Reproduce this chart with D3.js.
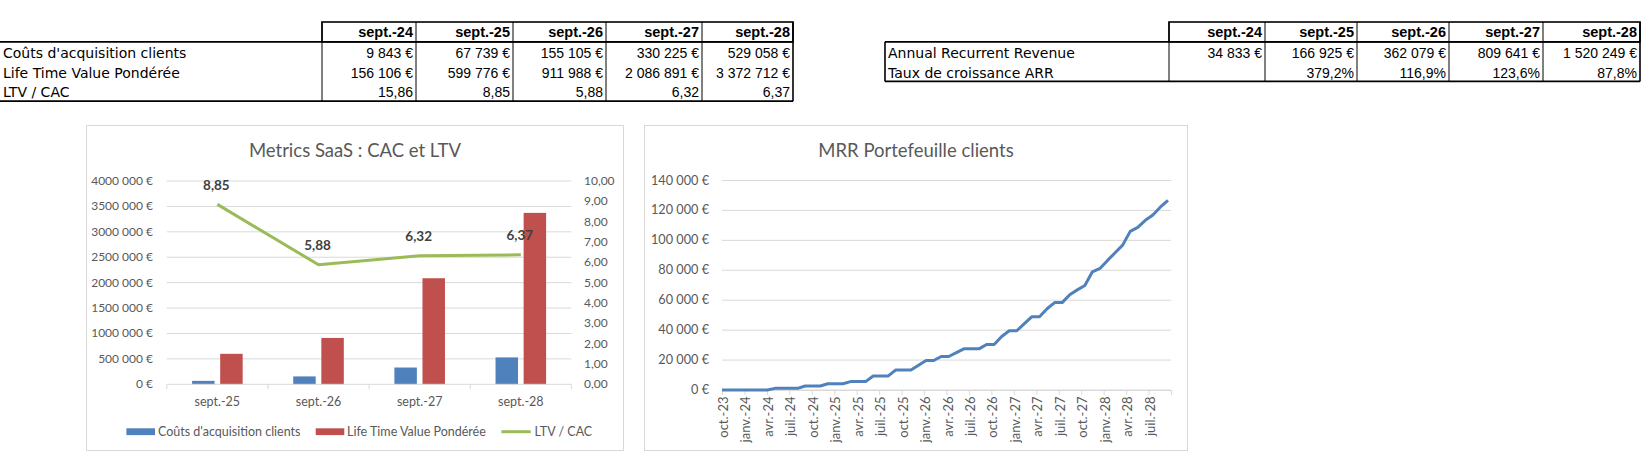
<!DOCTYPE html>
<html>
<head>
<meta charset="utf-8">
<script src="https://cdn.jsdelivr.net/npm/d3@7"></script>
<style>
  html, body { margin: 0; padding: 0; background: #ffffff; }
  svg { display: block; }
</style>
</head>
<body>
<svg id="c" width="1651" height="462"></svg>
<script>
// ---------- DATA ----------
const periods = ["sept.-24", "sept.-25", "sept.-26", "sept.-27", "sept.-28"];
const cac = [9843, 67739, 155105, 330225, 529058];
const ltv = [156106, 599776, 911988, 2086891, 3372712];
const ltvCac = [15.86, 8.85, 5.88, 6.32, 6.37];
const arr = [34833, 166925, 362079, 809641, 1520249];
const arrGrowth = [null, 379.2, 116.9, 123.6, 87.8];

const table1Labels = ["Coûts d'acquisition clients", "Life Time Value Pondérée", "LTV / CAC"];
const table2Labels = ["Annual Recurrent Revenue", "Taux de croissance ARR"];

// chart 1 shows sept.-25 .. sept.-28
const chartCategories = periods.slice(1);
const chartCac = cac.slice(1);
const chartLtv = ltv.slice(1);
const chartRatio = ltvCac.slice(1);
const leftTickValues = [0, 500000, 1000000, 1500000, 2000000, 2500000, 3000000, 3500000, 4000000];
const leftTickLabels = ["0 €", "500 000 €", "1000 000 €", "1500 000 €", "2000 000 €", "2500 000 €", "3000 000 €", "3500 000 €", "4000 000 €"];
const rightTickValues = [0,1,2,3,4,5,6,7,8,9,10];
const seriesNames = ["Coûts d'acquisition clients", "Life Time Value Pondérée", "LTV / CAC"];

// chart 2: monthly MRR from oct.-23 to sept.-28
const mrrValues = [0,0,0,0,0,0,0,1100,1100,1100,1100,2700,2700,2700,4200,4200,4200,5600,5600,5600,
  9400,9400,9400,13400,13400,13400,16600,19700,19700,22400,22400,25000,27500,27500,27500,30400,30400,
  35800,39600,39600,44300,49000,49000,54300,58400,58400,63700,66900,69800,79000,81200,86600,91700,
  96800,106000,108700,113400,117000,122300,126700];
const mrrTickLabels = ["oct.-23","janv.-24","avr.-24","juil.-24","oct.-24","janv.-25","avr.-25","juil.-25",
  "oct.-25","janv.-26","avr.-26","juil.-26","oct.-26","janv.-27","avr.-27","juil.-27","oct.-27",
  "janv.-28","avr.-28","juil.-28"];
const mrrYTicks = [0,20000,40000,60000,80000,100000,120000,140000];

// ---------- HELPERS ----------
const fr = d3.formatLocale({decimal: ",", thousands: " ", grouping: [3], currency: ["", " €"]});
const fEuro = v => fr.format(",.0f")(v) + " €";
const f2 = fr.format(".2f");
const f1pct = v => fr.format(".1f")(v) + "%";

const svg = d3.select("#c");
svg.append("rect").attr("width", 1651).attr("height", 462).attr("fill", "#fff");

const LABEL_FONT = "DejaVu Sans, sans-serif";
const NUM_FONT = "'Liberation Sans', Arial, sans-serif";
const CHART_FONT = "Lato, 'Open Sans', sans-serif";

// ---------- TABLES ----------
function drawTable(opts) {
  const g = svg.append("g");
  const {left, colX, headerTop, headerH, rowH, rows, leftBorder} = opts;
  const right = colX[colX.length - 1];
  const rowTop = headerTop + headerH;
  const bottom = rowTop + rowH * rows.length;
  g.append("rect").attr("x", colX[0]).attr("y", headerTop)
    .attr("width", right - colX[0]).attr("height", headerH)
    .attr("fill", "none").attr("stroke", "#000").attr("stroke-width", 1.6);
  periods.forEach((p, i) => {
    g.append("line").attr("x1", colX[i]).attr("x2", colX[i]).attr("y1", headerTop).attr("y2", bottom)
      .attr("stroke", "#000").attr("stroke-width", 1);
    g.append("text").attr("x", colX[i + 1] - 3).attr("y", headerTop + headerH / 2 + 5.5)
      .attr("text-anchor", "end").attr("font-family", NUM_FONT).attr("font-weight", "bold")
      .attr("font-size", 14.5).attr("fill", "#000").text(p);
  });
  g.append("line").attr("x1", right).attr("x2", right).attr("y1", headerTop).attr("y2", bottom)
    .attr("stroke", "#000").attr("stroke-width", 1.6);
  g.append("line").attr("x1", left).attr("x2", right).attr("y1", rowTop).attr("y2", rowTop)
    .attr("stroke", "#000").attr("stroke-width", 1.8);
  g.append("line").attr("x1", left).attr("x2", right).attr("y1", bottom).attr("y2", bottom)
    .attr("stroke", "#000").attr("stroke-width", 1.8);
  if (leftBorder) {
    g.append("line").attr("x1", left).attr("x2", left).attr("y1", rowTop).attr("y2", bottom)
      .attr("stroke", "#000").attr("stroke-width", 1.6);
  }
  rows.forEach((r, ri) => {
    const cy = rowTop + rowH * ri + rowH / 2 + 6;
    g.append("text").attr("x", left + 3).attr("y", cy)
      .attr("font-family", LABEL_FONT).attr("font-size", 14).attr("fill", "#000").text(r.label);
    r.values.forEach((v, i) => {
      if (v === null) return;
      g.append("text").attr("x", colX[i + 1] - 3).attr("y", cy)
        .attr("text-anchor", "end").attr("font-family", NUM_FONT).attr("font-size", 14)
        .attr("fill", "#000").text(r.fmt(v));
    });
  });
}

drawTable({
  left: 0, colX: [322, 416, 513, 606, 702, 793], headerTop: 22, headerH: 19.8, rowH: 19.8, leftBorder: false,
  rows: [
    {label: table1Labels[0], values: cac, fmt: fEuro},
    {label: table1Labels[1], values: ltv, fmt: fEuro},
    {label: table1Labels[2], values: ltvCac, fmt: f2}
  ]
});
drawTable({
  left: 885, colX: [1169, 1265, 1357, 1449, 1543, 1640], headerTop: 22, headerH: 19.8, rowH: 19.8, leftBorder: true,
  rows: [
    {label: table2Labels[0], values: arr, fmt: fEuro},
    {label: table2Labels[1], values: arrGrowth, fmt: f1pct}
  ]
});

// ---------- CHART 1 ----------
const AX = "#595959", GRID = "#d9d9d9";
(function () {
  const g = svg.append("g");
  g.append("rect").attr("x", 86.5).attr("y", 125.5).attr("width", 537).attr("height", 325)
    .attr("fill", "#fff").attr("stroke", GRID);
  g.append("text").attr("x", 355).attr("y", 157).attr("text-anchor", "middle")
    .attr("font-family", CHART_FONT).attr("font-size", 18.5).attr("fill", AX).text("Metrics SaaS : CAC et LTV");

  const x0 = 166.8, x1 = 571.4, yBot = 384.3, yTop = 181;
  const yL = d3.scaleLinear().domain([0, 4000000]).range([yBot, yTop]);
  const yR = d3.scaleLinear().domain([0, 10]).range([yBot, yTop]);
  const xb = d3.scaleBand().domain(chartCategories).range([x0, x1]);
  const bw = xb.bandwidth();
  const xs = d3.scaleBand().domain(["cac", "ltv"]).range([bw * 0.25, bw * 0.75]).paddingInner(0.2);

  leftTickValues.forEach((v, i) => {
    if (v !== 0) g.append("line").attr("x1", x0).attr("x2", x1).attr("y1", yL(v)).attr("y2", yL(v))
      .attr("stroke", GRID).attr("stroke-width", 1);
    g.append("text").attr("x", 153).attr("y", yL(v) + 4).attr("text-anchor", "end")
      .attr("font-family", CHART_FONT).attr("font-size", 12).attr("fill", AX).text(leftTickLabels[i]);
  });
  rightTickValues.forEach(v => {
    g.append("text").attr("x", 584).attr("y", yR(v) + 4).attr("text-anchor", "start")
      .attr("font-family", CHART_FONT).attr("font-size", 12).attr("fill", AX).text(f2(v));
  });

  chartCategories.forEach((c, i) => {
    g.append("rect").attr("x", xb(c) + xs("cac")).attr("width", xs.bandwidth())
      .attr("y", yL(chartCac[i])).attr("height", yBot - yL(chartCac[i])).attr("fill", "#4f81bd");
    g.append("rect").attr("x", xb(c) + xs("ltv")).attr("width", xs.bandwidth())
      .attr("y", yL(chartLtv[i])).attr("height", yBot - yL(chartLtv[i])).attr("fill", "#c0504d");
  });

  g.append("line").attr("x1", x0).attr("x2", x1).attr("y1", yBot).attr("y2", yBot)
    .attr("stroke", GRID).attr("stroke-width", 1);
  chartCategories.concat([null]).forEach(c => {
    const xx = c === null ? x1 : xb(c);
    g.append("line").attr("x1", xx).attr("x2", xx).attr("y1", yBot).attr("y2", yBot + 5)
      .attr("stroke", GRID);
  });
  chartCategories.forEach(c => {
    g.append("text").attr("x", xb(c) + bw / 2).attr("y", yBot + 22).attr("text-anchor", "middle")
      .attr("font-family", CHART_FONT).attr("font-size", 12.5).attr("fill", AX).text(c);
  });

  const line = d3.line().x((d, i) => xb(chartCategories[i]) + bw / 2).y(d => yR(d));
  g.append("path").datum(chartRatio).attr("d", line).attr("fill", "none")
    .attr("stroke", "#9bbb59").attr("stroke-width", 3).attr("stroke-linejoin", "round");
  chartRatio.forEach((v, i) => {
    g.append("text").attr("x", xb(chartCategories[i]) + bw / 2 - 1).attr("y", yR(v) - 14.5)
      .attr("text-anchor", "middle").attr("font-family", CHART_FONT).attr("font-weight", "bold")
      .attr("font-size", 13.5).attr("fill", "#404040").text(f2(v));
  });

  const ly = 431.7;
  g.append("rect").attr("x", 126.4).attr("y", ly - 3.4).attr("width", 28.6).attr("height", 6.8).attr("fill", "#4f81bd");
  g.append("text").attr("x", 158).attr("y", ly + 4.5).attr("font-family", CHART_FONT).attr("font-size", 12.5)
    .attr("fill", AX).text(seriesNames[0]);
  g.append("rect").attr("x", 315.7).attr("y", ly - 3.4).attr("width", 28.6).attr("height", 6.8).attr("fill", "#c0504d");
  g.append("text").attr("x", 347).attr("y", ly + 4.5).attr("font-family", CHART_FONT).attr("font-size", 12.5)
    .attr("fill", AX).text(seriesNames[1]);
  g.append("line").attr("x1", 501.4).attr("x2", 530.7).attr("y1", ly).attr("y2", ly)
    .attr("stroke", "#9bbb59").attr("stroke-width", 3);
  g.append("text").attr("x", 534.6).attr("y", ly + 4.5).attr("font-family", CHART_FONT).attr("font-size", 12.5)
    .attr("fill", AX).text(seriesNames[2]);
})();

// ---------- CHART 2 ----------
(function () {
  const g = svg.append("g");
  g.append("rect").attr("x", 644.5).attr("y", 125.5).attr("width", 543).attr("height", 325)
    .attr("fill", "#fff").attr("stroke", GRID);
  g.append("text").attr("x", 916).attr("y", 157).attr("text-anchor", "middle")
    .attr("font-family", CHART_FONT).attr("font-size", 18.5).attr("fill", AX).text("MRR Portefeuille clients");

  // quarterly tick scale (months since oct.-23) and point scale (60 monthly points)
  const xq = d3.scaleLinear().domain([0, 60]).range([722, 1171]);
  const xp = d3.scaleLinear().domain([0, mrrValues.length - 1]).range([722, 1168]);
  const y = d3.scaleLinear().domain([0, 140000]).range([390, 180.5]);

  mrrYTicks.forEach(v => {
    g.append("line").attr("x1", xq(0)).attr("x2", xq(60)).attr("y1", y(v)).attr("y2", y(v))
      .attr("stroke", GRID).attr("stroke-width", 1);
    g.append("text").attr("x", 709).attr("y", y(v) + 4).attr("text-anchor", "end")
      .attr("font-family", CHART_FONT).attr("font-size", 12.7).attr("fill", AX).text(fEuro(v));
  });

  const axis = d3.axisBottom(xq).tickValues(d3.range(0, 61, 3)).tickSize(5).tickSizeOuter(0)
    .tickFormat(d => mrrTickLabels[d / 3] || "");
  const ag = g.append("g").attr("transform", `translate(0,${y(0)})`).call(axis);
  ag.select(".domain").attr("stroke", GRID);
  ag.selectAll(".tick line").attr("stroke", GRID);
  ag.selectAll(".tick text")
    .attr("font-family", CHART_FONT).attr("font-size", 13).attr("fill", AX)
    .attr("text-anchor", "end").attr("dy", null).attr("y", 0).attr("x", 0)
    .attr("transform", "translate(5.5,6.5) rotate(-90)");

  const line = d3.line().x((d, i) => xp(i)).y(d => y(d));
  g.append("path").datum(mrrValues).attr("d", line).attr("fill", "none")
    .attr("stroke", "#4f81bd").attr("stroke-width", 3).attr("stroke-linejoin", "round");
})();
</script>
</body>
</html>
